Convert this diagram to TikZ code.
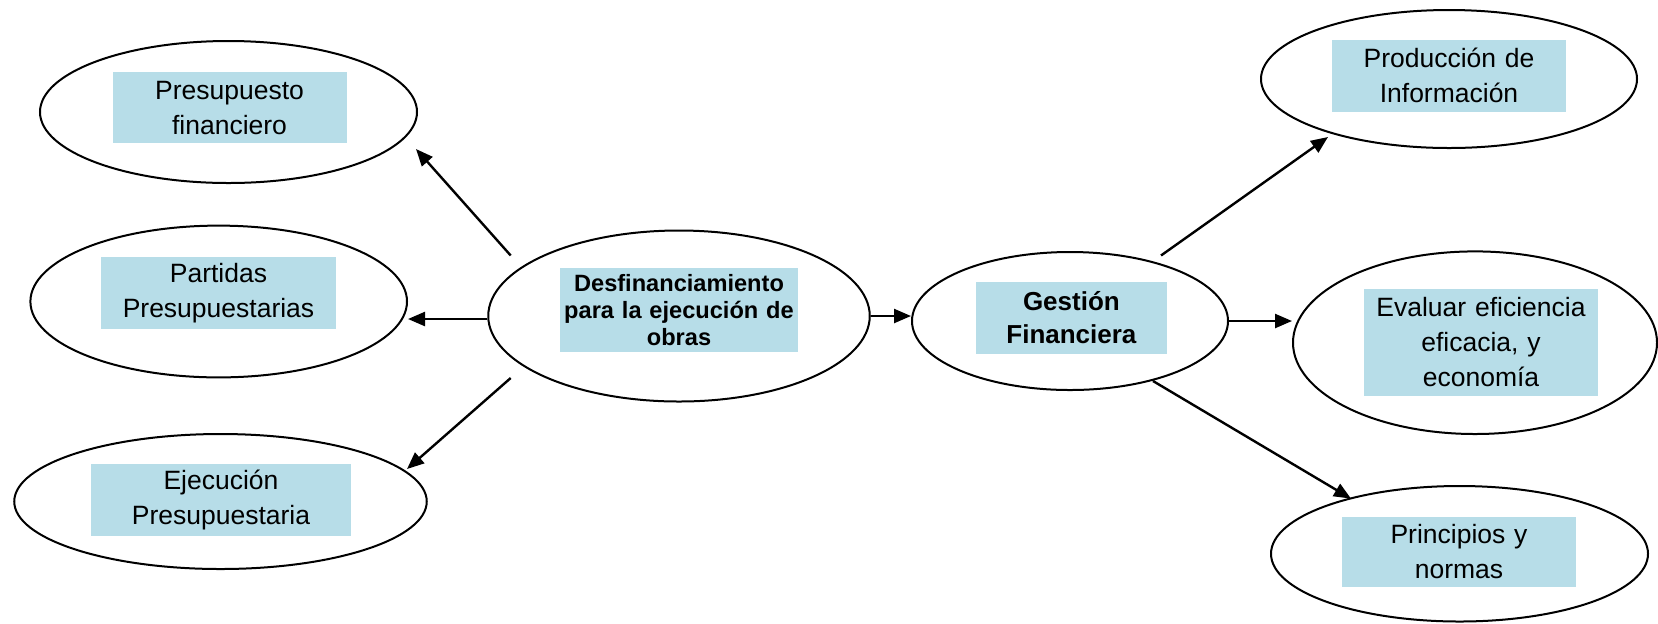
\documentclass[tikz,border=0pt]{standalone}
\usepackage{fontspec}
\setmainfont{Liberation Sans}
\usetikzlibrary{shapes.geometric,arrows.meta}
\definecolor{boxblue}{RGB}{183,221,232}

\begin{document}
\begin{tikzpicture}[x=0.5pt,y=-0.5pt,
  oval/.style={ellipse, draw=black, line width=1pt, inner sep=0pt},
  txtbox/.style={fill=boxblue, inner sep=0pt, align=center,
    font=\fontsize{13.25}{17.5}\selectfont},
  boldbox/.style={txtbox, font=\fontsize{11.8}{13.5}\selectfont\bfseries},
  bigbold/.style={txtbox, font=\fontsize{13}{16.4}\selectfont\bfseries},
  arr/.style={line width=1.2pt, -{Triangle[length=8.5pt,width=7pt]}}
]
\useasboundingbox (0,0) rectangle (1658,623);

% ellipses
\node[oval, minimum width=188.5pt, minimum height=71pt]   (PF) at (228.5,112) {};
\node[oval, minimum width=188.3pt, minimum height=75.9pt] (PP) at (218.7,301.5) {};
\node[oval, minimum width=206.25pt, minimum height=67.5pt] (EP) at (220.5,501.5) {};
\node[oval, minimum width=190.75pt, minimum height=85.5pt] (D) at (679,316) {};
\node[oval, minimum width=158pt, minimum height=69pt]     (G) at (1070,321) {};
\node[oval, minimum width=188pt, minimum height=69pt]     (PI) at (1449,79) {};
\node[oval, minimum width=182pt, minimum height=91.3pt]   (EE) at (1475,342.7) {};
\node[oval, minimum width=188.5pt, minimum height=67.75pt] (PN) at (1459.5,553.75) {};

% labels on light-blue panels
\node[txtbox, text width=117pt, minimum height=35.7pt] (tPF) at (229.5,107.7) {Presupuesto\\financiero};
\node[txtbox, text width=117.2pt, minimum height=35.75pt] (tPP) at (218.5,293.2) {Partidas\\Presupuestarias};
\node[txtbox, text width=129.7pt, minimum height=36pt] (tEP) at (221,499.6) {Ejecución\\Presupuestaria};
\node[boldbox, text width=118.8pt, minimum height=42.2pt] (tD) at (679,310) {Desfinanciamiento\\para la ejecución de\\obras};
\node[bigbold, text width=95.7pt, minimum height=36.2pt] (tG) at (1071.4,317.9) {Gestión\\Financiera};
\node[txtbox, text width=116.8pt, minimum height=35.8pt] (tPI) at (1449,75.8) {Producción de\\Información};
\node[txtbox, text width=117pt, minimum height=53.5pt] (tEE) at (1481,342.5) {Evaluar eficiencia\\eficacia, y\\economía};
\node[txtbox, text width=117pt, minimum height=35.25pt] (tPN) at (1459,551.8) {Principios y\\normas};

% free ends of the diagonal connectors
\coordinate (d1) at (510.7,255.5);
\coordinate (pf1) at (416,149);
\coordinate (d3) at (510.7,378);
\coordinate (ep1) at (407,469);
\coordinate (g1) at (1161,255.5);
\coordinate (pi1) at (1328,137);
\coordinate (g3) at (1153,381);
\coordinate (pn1) at (1351,498.6);
\coordinate (d2) at ([yshift=-1.5pt]D.west);

% connectors
\draw[arr] (d1) -- (pf1);
\draw[arr] (d2) -- (d2 -| PP.east);
\draw[arr] (d3) -- (ep1);
\draw[arr] (D.east) -- (D.east -| G.west);
\draw[arr] (g1) -- (pi1);
\draw[arr] (G.east) -- (G.east -| EE.west);
\draw[arr] (g3) -- (pn1);
\end{tikzpicture}
\end{document}
